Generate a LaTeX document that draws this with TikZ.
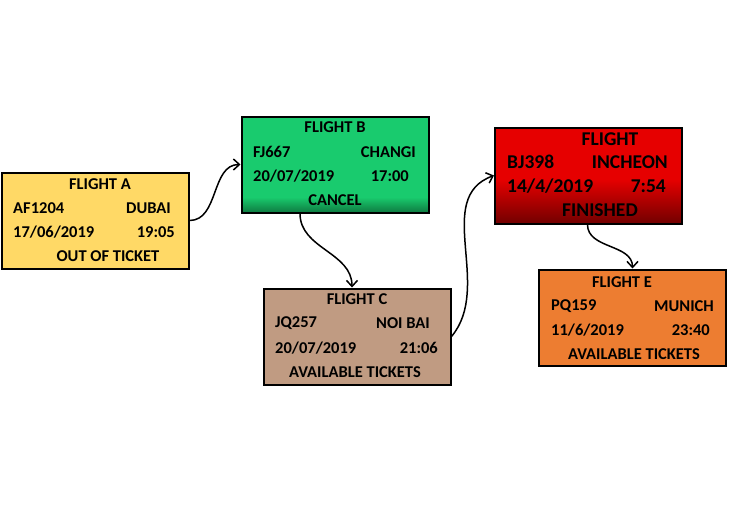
\documentclass[tikz,border=0pt]{standalone}
\usepackage{fontspec}
\setmainfont{Carlito}
\usetikzlibrary{arrows.meta}
\definecolor{ayellow}{HTML}{FFD966}
\definecolor{bgreen}{HTML}{19CB6E}
\definecolor{bgreendark}{HTML}{0E7A40}
\definecolor{ctan}{HTML}{C09B82}
\definecolor{dred}{HTML}{E60000}
\definecolor{dreddark}{HTML}{720000}
\definecolor{eorange}{HTML}{ED7D31}
\pgfdeclareverticalshading{greenfade}{100bp}{color(0bp)=(bgreendark); color(25bp)=(bgreendark); color(33bp)=(bgreen); color(100bp)=(bgreen)}
\pgfdeclareverticalshading{redfade}{100bp}{color(0bp)=(dreddark); color(25bp)=(dreddark); color(48bp)=(dred); color(100bp)=(dred)}
\tikzset{
  flightbox/.style={draw=black, line width=2pt, minimum width=187pt, minimum height=96pt, inner sep=0pt},
  txt/.style={font=\fontsize{16.5}{18}\selectfont\bfseries, inner sep=0pt},
  bigtxt/.style={font=\fontsize{19.5}{21}\selectfont\bfseries, inner sep=0pt},
  link/.style={line width=1.5pt, -{Straight Barb[length=6pt,width=11pt]}}
}
\begin{document}
\begin{tikzpicture}[x=1pt, y=-1pt]
    \useasboundingbox (0,0) rectangle (729,512);
    % Uçuş kutuları
    \node[flightbox, fill=ayellow] (A) at (95,220.5) {};
    \node[flightbox, shading=greenfade] (B) at (335,164.5) {};
    \node[flightbox, fill=ctan] (C) at (357,336.5) {};
    \node[flightbox, shading=redfade] (D) at (588.5,175.5) {};
    \node[flightbox, fill=eorange] (E) at (632.5,317.5) {};
    % Flight A
    \node[txt] (aHead) at (100,184) {FLIGHT A};
    \node[txt, anchor=west] (aCode) at (13,208) {AF1204};
    \node[txt, anchor=east] (aCity) at (171,208) {DUBAI};
    \node[txt, anchor=west] (aDate) at (13,232) {17/06/2019};
    \node[txt, anchor=east] (aTime) at (175,232) {19:05};
    \node[txt] (aStat) at (108,256) {OUT OF TICKET};
    % Flight B
    \node[txt] (bHead) at (335,127) {FLIGHT B};
    \node[txt, anchor=west] (bCode) at (253,152) {FJ667};
    \node[txt, anchor=east] (bCity) at (416,152) {CHANGI};
    \node[txt, anchor=west] (bDate) at (253,176) {20/07/2019};
    \node[txt, anchor=east] (bTime) at (409,176) {17:00};
    \node[txt] (bStat) at (335,200) {CANCEL};
    % Flight C
    \node[txt] (cHead) at (357,299) {FLIGHT C};
    \node[txt, anchor=west] (cCode) at (275,323) {JQ257};
    \node[txt, anchor=east] (cCity) at (430,323) {NOI BAI};
    \node[txt, anchor=west] (cDate) at (275,348) {20/07/2019};
    \node[txt, anchor=east] (cTime) at (438,348) {21:06};
    \node[txt] (cStat) at (355,372) {AVAILABLE TICKETS};
    % Flight D
    \node[bigtxt] (dHead) at (610,139) {FLIGHT};
    \node[bigtxt, anchor=west] (dCode) at (507,162) {BJ398};
    \node[bigtxt, anchor=east] (dCity) at (668,162) {INCHEON};
    \node[bigtxt, anchor=west] (dDate) at (507,186) {14/4/2019};
    \node[bigtxt, anchor=east] (dTime) at (666,186) {7:54};
    \node[bigtxt] (dStat) at (600,210) {FINISHED};
    % Flight E
    \node[txt] (eHead) at (622,282) {FLIGHT E};
    \node[txt, anchor=west] (eCode) at (551,306) {PQ159};
    \node[txt, anchor=east] (eCity) at (714,306) {MUNICH};
    \node[txt, anchor=west] (eDate) at (551,330) {11/6/2019};
    \node[txt, anchor=east] (eTime) at (710,330) {23:40};
    \node[txt] (eStat) at (634,354) {AVAILABLE TICKETS};
    % Bağlantılar
    \draw[link] (A.east) to[out=0, in=180] (B.west);
    \draw[link] ([xshift=-35pt]B.south) to[out=-90, in=90] ([xshift=-5pt]C.north);
    \draw[link] (C.east) to[out=50, in=200] (D.west);
    \draw[link] ([xshift=-1pt]D.south) to[out=-90, in=90] (E.north);
\end{tikzpicture}
\end{document}
